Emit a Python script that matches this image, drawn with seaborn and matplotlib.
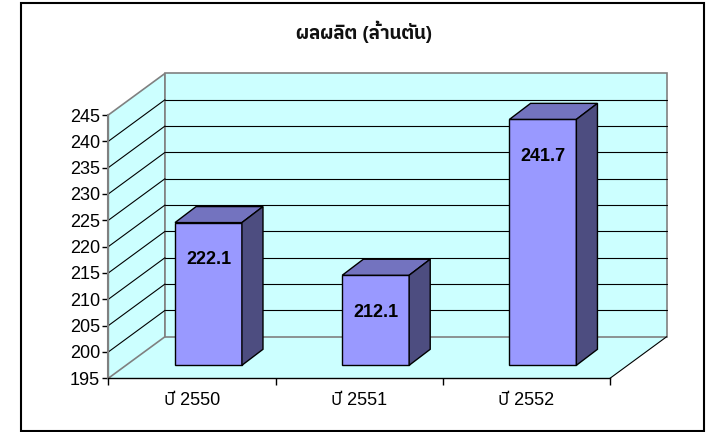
"""3D-style Excel column chart: ผลผลิต (ล้านตัน)."""

import matplotlib

matplotlib.use("Agg")
import matplotlib.pyplot as plt
import numpy as np
import seaborn as sns
from matplotlib import font_manager, ft2font
from matplotlib.patches import Polygon, Rectangle

TITLE = "ผลผลิต (ล้านตัน)"
YEARS = ["ปี 2550", "ปี 2551", "ปี 2552"]
OUTPUT = [222.1, 212.1, 241.7]
Y_TICKS = [195, 200, 205, 210, 215, 220, 225, 230, 235, 240, 245]

WALL = "#CCFFFF"
EDGE = "#808080"
BAR_FRONT = "#9999FF"
BAR_TOP = "#7373BF"
BAR_SIDE = "#4D4D80"

# depth of the box and of the columns, in data units
DX, DY = 0.339, 7.9
FX, FY = 0.099, 2.47
BX, BY = 0.126, 3.04
BAR_W = 0.40


def find_thai_font():
    names = []
    for entry in font_manager.fontManager.ttflist:
        try:
            cmap = ft2font.FT2Font(entry.fname).get_charmap()
        except Exception:
            continue
        if 0x0E1C in cmap and 0x0E1B in cmap:
            names.append(entry.name)
    names.sort(key=lambda n: (0 if "Sans" in n else 1, n))
    return names[0] if names else None


sns.set_theme(style="white")
thai = find_thai_font()
families = ["Liberation Sans"] + ([thai] if thai else []) + ["DejaVu Sans"]
plt.rcParams["font.family"] = families
plt.rcParams["text.color"] = "black"
plt.rcParams["xtick.color"] = "black"
plt.rcParams["ytick.color"] = "black"

fig = plt.figure(figsize=(7.09, 4.32), dpi=100)
fig.patch.set_facecolor("white")
ax = fig.add_axes([108.3 / 709, 1 - 378.3 / 432, 501.7 / 709, 263.3 / 432])
ax.patch.set_visible(False)

y0, y1 = Y_TICKS[0], Y_TICKS[-1]
x0, x1 = -0.5, len(YEARS) - 0.5

# floor, side wall and back wall
floor = Polygon([(x0, y0), (x1, y0), (x1 + DX, y0 + DY), (x0 + DX, y0 + DY)],
                facecolor=WALL, edgecolor="none", clip_on=False, zorder=0)
side = Polygon([(x0, y0), (x0, y1), (x0 + DX, y1 + DY), (x0 + DX, y0 + DY)],
               facecolor=WALL, edgecolor=EDGE, lw=1.2, clip_on=False, zorder=0)
back = Rectangle((x0 + DX, y0 + DY), x1 - x0, y1 - y0,
                 facecolor=WALL, edgecolor=EDGE, lw=1.2, clip_on=False, zorder=0)
for p in (floor, side, back):
    ax.add_patch(p)

for v in Y_TICKS[1:-1]:
    ax.plot([x0 + DX, x1 + DX], [v + DY, v + DY], color="black", lw=0.8,
            clip_on=False, zorder=1)
    ax.plot([x0, x0 + DX], [v, v + DY], color="black", lw=0.8,
            clip_on=False, zorder=1)
ax.plot([x1, x1 + DX], [y0, y0 + DY], color="black", lw=0.8, clip_on=False, zorder=1)

# column front faces
sns.barplot(x=YEARS, y=OUTPUT, color=BAR_FRONT, saturation=1, width=BAR_W,
            edgecolor="black", linewidth=1, ax=ax, zorder=3)
for i, (patch, value) in enumerate(zip(ax.patches[-len(OUTPUT):], OUTPUT)):
    left = i - BAR_W / 2 + FX
    patch.set_x(left)
    patch.set_y(y0 + FY)
    patch.set_height(value - y0)
    patch.set_clip_on(False)
    top = value + FY
    right = left + BAR_W
    ax.add_patch(Polygon([(left, top), (right, top), (right + BX, top + BY), (left + BX, top + BY)],
                         facecolor=BAR_TOP, edgecolor="black", lw=1, clip_on=False, zorder=3))
    ax.add_patch(Polygon([(right, y0 + FY), (right, top), (right + BX, top + BY), (right + BX, y0 + FY + BY)],
                         facecolor=BAR_SIDE, edgecolor="black", lw=1, clip_on=False, zorder=3))
    ax.text(i + FX, top - 7.0, f"{value:.1f}", ha="center", va="center",
            fontsize=13, fontweight="bold", color="black", zorder=4)

ax.set_xlim(x0, x1)
ax.set_ylim(y0, y1)
ax.set_yticks(Y_TICKS)
ax.set_yticklabels([str(t) for t in Y_TICKS])
ax.set_xticks(range(len(YEARS)))
ax.set_xticklabels(YEARS)
ax.set_xticks(np.arange(x0, x1 + 0.01, 1.0), minor=True)
ax.set_xlabel("")
ax.set_ylabel("")
ax.tick_params(axis="y", which="major", direction="out", length=4, width=1,
               color="black", labelcolor="black", labelsize=13, pad=2, left=True)
ax.tick_params(axis="x", which="major", length=0, labelsize=13, labelcolor="black", pad=10)
ax.tick_params(axis="x", which="minor", direction="out", length=5, width=1,
               color="black", bottom=True)
for name in ("top", "right"):
    ax.spines[name].set_visible(False)
ax.spines["left"].set_color(EDGE)
ax.spines["left"].set_linewidth(1.5)
ax.spines["bottom"].set_color("black")
ax.spines["bottom"].set_linewidth(1)
ax.grid(False)

fig.text(364 / 709, 1 - 32 / 432, TITLE, ha="center", va="center",
         fontsize=13.5, fontweight="bold", color="#111111")
fig.patches.append(Rectangle((21 / 709, 1 - 431 / 432), 683 / 709, 428 / 432,
                             transform=fig.transFigure, fill=False,
                             edgecolor="black", lw=1.5))

fig.savefig("out.png", dpi=100)
plt.close(fig)
